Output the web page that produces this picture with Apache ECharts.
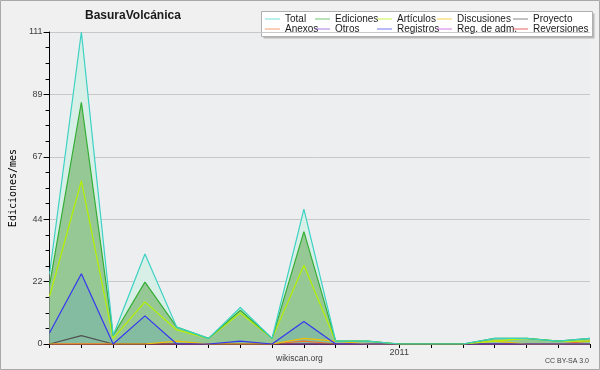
<!DOCTYPE html>
<html>
<head>
<meta charset="utf-8">
<script src="https://cdn.jsdelivr.net/npm/echarts@6/dist/echarts.min.js"></script>
<style>
html,body{margin:0;padding:0;background:#f0f0f0;}
#c{width:600px;height:370px;}
</style>
</head>
<body>
<div id="c"></div>
<script>
// Months Feb 2010 .. Jul 2011
var categories = ['2010-02','2010-03','2010-04','2010-05','2010-06','2010-07','2010-08','2010-09','2010-10','2010-11','2010-12','2011-01','2011-02','2011-03','2011-04','2011-05','2011-06','2011-07'];
var xTickLabels = {'2011-01':'2011'};
var yTickLabels = [0,22,44,67,89,111];

var total       = [25,111,3,32,6,2,13,2,48,1,1,0,0,0,2,2,1,2];
var ediciones   = [21,86,3,22,6,2,12,2,40,1,1,0,0,0,2,2,1,2];
var articulos   = [17,58,2,15,5,2,11,2,28,1,1,0,0,0,1,2,1,1];
var discusiones = [0,0,0,0,1,0,0,0,2,1,0,0,0,0,1,0,0,0];
var proyecto    = [0,3,0,0,0,0,0,0,0,0,0,0,0,0,0,0,0,0];
var anexos      = [0,0,0,0,0,0,0,0,1,0,0,0,0,0,0,0,0,1];
var otros       = [0,0,0,0,0,0,0,0,0,0,0,0,0,0,0,0,0,0];
var registros   = [4,25,0,10,0,0,1,0,8,0,0,0,0,0,0,0,0,0];
var regAdm      = [0,0,0,0,0,0,0,0,0,0,0,0,0,0,0,0,0,0];
var reversiones = [0,0,0,0,0,0,0,0,0,0,0,0,0,0,0,0,0,0];

var names = ['Total','Ediciones','Artículos','Discusiones','Proyecto','Anexos','Otros','Registros','Reg. de adm.','Reversiones'];
var colors = ['#3cd2c4','#34ae34','#b4f000','#f0c000','#505050','#f07030','#8040d0','#3636f0','#c040e0','#e02020'];
var datas = [total,ediciones,articulos,discusiones,proyecto,anexos,otros,registros,regAdm,reversiones];

var chart = echarts.init(document.getElementById('c'), null, {renderer:'canvas'});

var series = [];
series.push({name:'_aTotal',type:'line',data:total,symbol:'none',silent:true,lineStyle:{width:0},areaStyle:{color:'#d7efe7',opacity:1},z:1});
series.push({name:'_aEdic',type:'line',data:ediciones,symbol:'none',silent:true,lineStyle:{width:0},areaStyle:{color:'#96c895',opacity:1},z:1});
series.push({name:'_aReg',type:'line',data:registros,symbol:'none',silent:true,lineStyle:{width:0},areaStyle:{color:'rgba(0,110,255,0.12)',opacity:1},z:1});
var order = [9,8,6,5,4,3,7,2,1,0];
order.forEach(function(i){
  series.push({name:names[i],type:'line',data:datas[i],symbol:'none',
    lineStyle:{width:1.2,color:colors[i]},itemStyle:{color:colors[i]},z:3});
});

var legendLeft = [265,315,377,437,513];
var legends = [];
names.forEach(function(n,i){
  var row = Math.floor(i/5), col = i%5;
  legends.push({data:[n],left:legendLeft[col],top:row===0?14:24,padding:0,itemGap:0,z:20,
    icon:'rect',itemWidth:15,itemHeight:1,selectedMode:false,
    itemStyle:{color:colors[i],opacity:0.7},
    textStyle:{fontFamily:'Liberation Sans',fontSize:10,color:'#1a1a1a'}});
});

chart.setOption({
  animation:false,
  backgroundColor:'#f0f0f0',
  title:{text:'BasuraVolcánica',left:85,top:9.5,padding:0,
    textStyle:{fontFamily:'Liberation Sans',fontSize:12,fontWeight:'bold',color:'#1a1a1a'}},
  legend:legends,
  grid:{left:46,right:10,top:32,bottom:26,show:true,backgroundColor:'#eceef0',borderWidth:0,z:0},
  xAxis:{type:'category',data:categories,boundaryGap:false,
    axisLine:{lineStyle:{color:'#000',width:1}},
    axisTick:{show:true,interval:0,length:4,lineStyle:{color:'#000'}},
    axisLabel:{interval:0,margin:4,fontFamily:'Liberation Sans',fontSize:9,color:'#404040',
      formatter:function(v){return xTickLabels[v]||'';}},
    splitLine:{show:false}},
  yAxis:{type:'value',min:0,max:111,interval:22.2,
    name:'Ediciones/mes',nameLocation:'middle',nameGap:29,
    nameTextStyle:{fontFamily:'DejaVu Sans Mono',fontSize:10,color:'#000'},
    axisLine:{show:true,lineStyle:{color:'#000',width:1}},
    axisTick:{show:true,length:6,lineStyle:{color:'#000'}},
    minorTick:{show:true,splitNumber:4,length:4,lineStyle:{color:'#000'}},
    axisLabel:{margin:7,fontFamily:'Liberation Sans',fontSize:9,color:'#404040',
      formatter:function(v){var r=Math.round(v);return yTickLabels.indexOf(r)>=0?String(r):'';}},
    splitLine:{show:true,lineStyle:{color:'#c8c8c8',width:1}},
    minorSplitLine:{show:false}},
  graphic:[
    {type:'rect',shape:{x:0.5,y:0.5,width:599,height:369},style:{fill:'none',stroke:'#a8a8a8',lineWidth:1},z:100,silent:true},
    {type:'rect',shape:{x:263.5,y:13.5,width:331,height:25},style:{fill:'#b8b8b8',stroke:'none'},z:0,silent:true},
    {type:'rect',shape:{x:261.5,y:11.5,width:331,height:25},style:{fill:'#ffffff',stroke:'#b0b0b0',lineWidth:1},z:0,silent:true},
    {type:'text',left:276,top:354,style:{text:'wikiscan.org',fontFamily:'Liberation Sans',fontSize:8.5,fill:'#404040'},z:10,silent:true},
    {type:'text',right:11,top:358,style:{text:'CC BY-SA 3.0',fontFamily:'Liberation Sans',fontSize:7,fill:'#404040'},z:10,silent:true}
  ],
  series:series
});
</script>
</body>
</html>
